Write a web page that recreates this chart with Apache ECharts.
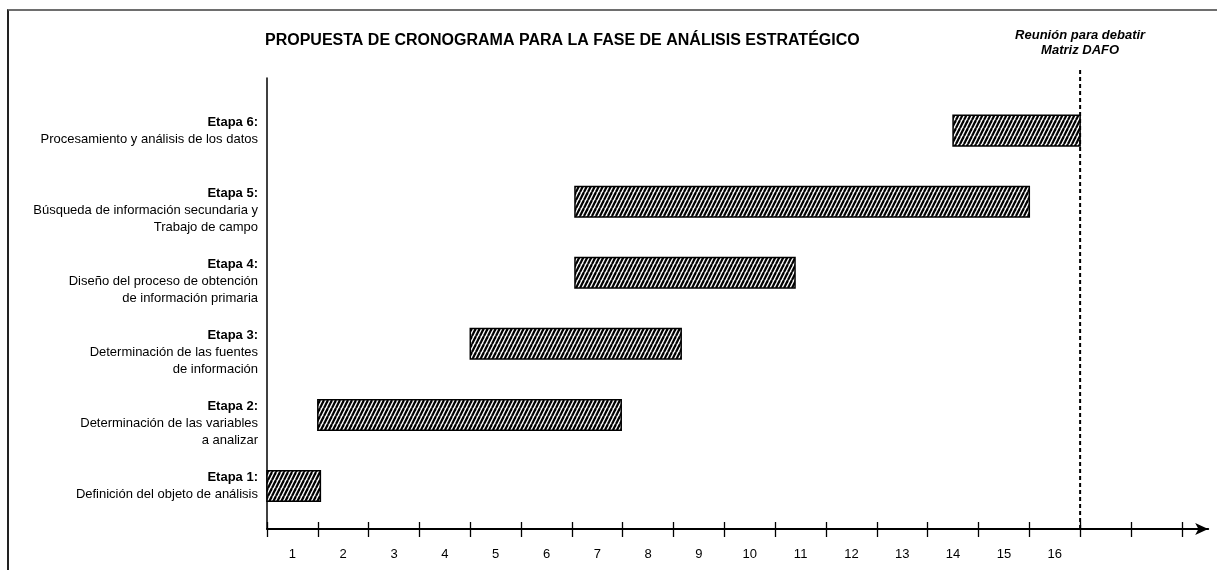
<!DOCTYPE html>
<html>
<head>
<meta charset="utf-8">
<script src="https://cdn.jsdelivr.net/npm/echarts@6/dist/echarts.min.js"></script>
<style>
  html, body { margin: 0; padding: 0; background: #fff; }
  #chart { width: 1217px; height: 570px; }
  #frame { position: absolute; left: 7px; top: 9px; right: -5px; bottom: -5px;
           border-left: 2px solid #222; border-top: 2px solid #6e6e6e; pointer-events: none; }
</style>
</head>
<body>
<div id="frame"></div>
<div id="chart"></div>
<script>
// datos del cronograma (semanas)
const etapas = ['Etapa 1:', 'Etapa 2:', 'Etapa 3:', 'Etapa 4:', 'Etapa 5:', 'Etapa 6:']
const descripciones = [
    ['Definición del objeto de análisis'],
    ['Determinación de las variables', 'a analizar'],
    ['Determinación de las fuentes', 'de información'],
    ['Diseño del proceso de obtención', 'de información primaria'],
    ['Búsqueda de información secundaria y', 'Trabajo de campo'],
    ['Procesamiento y análisis de los datos']
]
const inicio = [0, 1.0, 4.0, 6.06, 6.06, 13.5]
const fin = [1.05, 6.97, 8.15, 10.39, 15.0, 16.0]
const semanas = ['1', '2', '3', '4', '5', '6', '7', '8', '9', '10', '11', '12', '13', '14', '15', '16']
const hito = 16
const hitoTexto = 'Reunión para debatir\nMatriz DAFO'
const titulo = 'PROPUESTA DE CRONOGRAMA PARA LA FASE DE ANÁLISIS ESTRATÉGICO'

const FONT = 'Liberation Sans, Arial, sans-serif'
const Y_MIN = 0.395
const Y_MAX = 6.74
const X_MAX = 18.52
const LABEL_SHIFT = 0.239

// trama rayada de las barras
function makeHatch() {
    const c = document.createElement('canvas')
    c.width = 4
    c.height = 8
    const ctx = c.getContext('2d')
    ctx.fillStyle = '#fff'
    ctx.fillRect(0, 0, 4, 8)
    ctx.strokeStyle = '#000'
    ctx.lineWidth = 2.2
    for (let dx = -4; dx <= 4; dx += 4) {
        ctx.beginPath()
        ctx.moveTo(dx, 8)
        ctx.lineTo(dx + 4, 0)
        ctx.stroke()
    }
    return c
}
const hatch = { image: makeHatch(), repeat: 'repeat' }

const tickValues = []
for (let t = 0; t <= 18; t++) tickValues.push(t)

var myChart = echarts.init(document.getElementById('chart'))
var option = {
    animation: false,
    title: {
        text: titulo,
        left: 265,
        top: 33,
        padding: 0,
        textStyle: { fontFamily: FONT, fontSize: 16, fontWeight: 'bold', color: '#000' }
    },
    grid: { left: 267, top: 78, right: 1217 - 267 - X_MAX * 50.82, bottom: 41 },
    xAxis: [
        {
            type: 'value',
            min: 0,
            max: X_MAX,
            splitLine: { show: false },
            axisLine: { show: true, symbol: ['none', 'arrow'], symbolSize: [9, 13],
                        lineStyle: { color: '#000', width: 2 } },
            axisTick: { show: true, length: 8, customValues: tickValues,
                        lineStyle: { color: '#000', width: 1.3 } },
            axisLabel: {
                customValues: semanas.map((s, i) => i + 0.5),
                formatter: (v) => semanas[Math.round(v - 0.5)] || '',
                margin: 19,
                fontFamily: FONT, fontSize: 13, color: '#000'
            }
        },
        {
            type: 'value',
            min: 0,
            max: X_MAX,
            position: 'bottom',
            splitLine: { show: false },
            axisLine: { show: false },
            axisTick: { show: true, inside: true, length: 7, customValues: tickValues,
                        lineStyle: { color: '#000', width: 1.3 } },
            axisLabel: { show: false }
        }
    ],
    yAxis: {
        type: 'value',
        min: Y_MIN,
        max: Y_MAX,
        splitLine: { show: false },
        axisTick: { show: false },
        axisLine: { show: true, lineStyle: { color: '#000', width: 1.5 } },
        axisLabel: {
            customValues: etapas.map((e, i) => i + 1 + LABEL_SHIFT),
            formatter: (v) => {
                const k = Math.round(v - LABEL_SHIFT) - 1
                return ['{b|' + etapas[k] + '}'].concat(descripciones[k].map(d => '{n|' + d + '}')).join('\n')
            },
            align: 'right',
            verticalAlign: 'top',
            margin: 9,
            rich: {
                b: { fontFamily: FONT, fontSize: 13, fontWeight: 'bold', lineHeight: 17, color: '#000', align: 'right' },
                n: { fontFamily: FONT, fontSize: 13, lineHeight: 17, color: '#000', align: 'right' }
            }
        }
    },
    series: [
        {
            type: 'custom',
            name: 'etapas',
            encode: { x: [1, 2], y: 0 },
            data: etapas.map((e, k) => [k + 1, inicio[k], fin[k]]),
            renderItem: (params, api) => {
                const a = api.coord([api.value(1), api.value(0)])
                const b = api.coord([api.value(2), api.value(0)])
                const h = api.size([0, 1])[1] * 0.43
                return {
                    type: 'rect',
                    shape: { x: a[0], y: a[1] - h / 2, width: b[0] - a[0], height: h },
                    style: { fill: hatch, stroke: '#000', lineWidth: 1.5 }
                }
            }
        },
        {
            type: 'custom',
            name: 'hito',
            data: [[hito]],
            encode: { x: 0 },
            renderItem: (params, api) => {
                const bot = api.coord([api.value(0), Y_MIN])
                const top = api.coord([api.value(0), Y_MAX])
                return {
                    type: 'group',
                    children: [
                        {
                            type: 'line',
                            shape: { x1: bot[0], y1: bot[1], x2: top[0], y2: top[1] - 11 },
                            style: { stroke: '#000', lineWidth: 2, lineDash: [4, 3] }
                        },
                        {
                            type: 'text',
                            style: {
                                text: hitoTexto, x: top[0], y: top[1] - 20.5,
                                align: 'center', verticalAlign: 'bottom',
                                font: 'italic bold 13px ' + FONT, lineHeight: 15, fill: '#000'
                            }
                        }
                    ]
                }
            }
        }
    ]
}
myChart.setOption(option)
</script>
</body>
</html>
